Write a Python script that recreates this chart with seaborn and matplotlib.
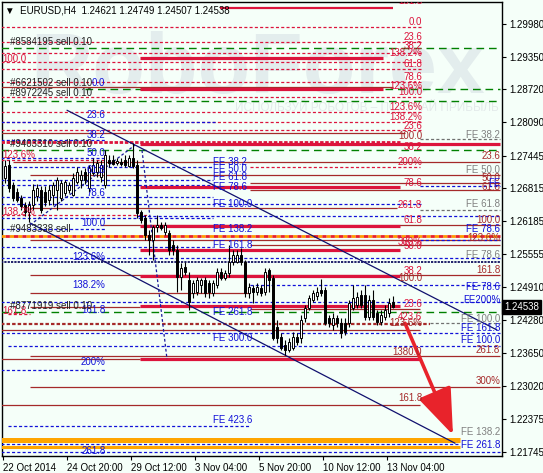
import matplotlib
matplotlib.use("Agg")
import matplotlib.pyplot as plt
import matplotlib.transforms as mtransforms
import seaborn as sns
import pandas as pd

# EURUSD H4 candles (bar 0 = 22 Oct 2014)
opens = [1.2702, 1.2727, 1.2688, 1.2675, 1.2663, 1.2650, 1.2636, 1.2650, 1.2667, 1.2678,
         1.2675, 1.2659, 1.2669, 1.2678, 1.2663, 1.2673, 1.2678, 1.2669, 1.2694, 1.2698,
         1.2713, 1.2682, 1.2711, 1.2713, 1.2703, 1.2688, 1.2736, 1.2736, 1.2730, 1.2732,
         1.2736, 1.2725, 1.2740, 1.2727, 1.2636, 1.2625, 1.2592, 1.2582, 1.2607, 1.2611,
         1.2598, 1.2596, 1.2573, 1.2563, 1.2511, 1.2530, 1.2505, 1.2480, 1.2482, 1.2496,
         1.2505, 1.2499, 1.2480, 1.2496, 1.2521, 1.2509, 1.2519, 1.2540, 1.2540, 1.2553,
         1.2540, 1.2480, 1.2490, 1.2482, 1.2490, 1.2482, 1.2524, 1.2509, 1.2415, 1.2395,
         1.2380, 1.2370, 1.2374, 1.2395, 1.2393, 1.2432, 1.2451, 1.2467, 1.2474, 1.2486,
         1.2486, 1.2432, 1.2419, 1.2432, 1.2422, 1.2422, 1.2422, 1.2451, 1.2457, 1.2476,
         1.2476, 1.2434, 1.2467, 1.2442, 1.2424, 1.2434, 1.2442, 1.24621]
highs = [1.2736, 1.2736, 1.2694, 1.2682, 1.2669, 1.2655, 1.2657, 1.2690, 1.2690, 1.2686,
         1.2686, 1.2688, 1.2694, 1.2703, 1.2698, 1.2698, 1.2694, 1.2711, 1.2723, 1.2717,
         1.2721, 1.2727, 1.2740, 1.2736, 1.2736, 1.2755, 1.2746, 1.2746, 1.2740, 1.2740,
         1.2746, 1.2746, 1.2769, 1.2736, 1.2640, 1.2630, 1.2601, 1.2611, 1.2630, 1.2617,
         1.2617, 1.2601, 1.2582, 1.2573, 1.2538, 1.2540, 1.2521, 1.2505, 1.2511, 1.2509,
         1.2511, 1.2505, 1.2505, 1.2528, 1.2528, 1.2524, 1.2573, 1.2563, 1.2563, 1.2567,
         1.2544, 1.2499, 1.2496, 1.2499, 1.2496, 1.2528, 1.2528, 1.2515, 1.2428, 1.2403,
         1.2390, 1.2393, 1.2405, 1.2403, 1.2438, 1.2457, 1.2476, 1.2486, 1.2492, 1.2507,
         1.2492, 1.2438, 1.2442, 1.2438, 1.2432, 1.2432, 1.2467, 1.2496, 1.2482, 1.2486,
         1.2496, 1.2476, 1.2486, 1.2447, 1.2447, 1.2457, 1.2471, 1.24749]
lows = [1.2692, 1.2675, 1.2657, 1.2655, 1.2640, 1.2628, 1.2617, 1.2640, 1.2657, 1.2634,
        1.2648, 1.2650, 1.2650, 1.2640, 1.2657, 1.2667, 1.2673, 1.2667, 1.2690, 1.2682,
        1.2690, 1.2675, 1.2707, 1.2703, 1.2694, 1.2682, 1.2723, 1.2727, 1.2727, 1.2725,
        1.2723, 1.2723, 1.2721, 1.2625, 1.2615, 1.2582, 1.2553, 1.2544, 1.2598, 1.2601,
        1.2592, 1.2553, 1.2553, 1.2482, 1.2486, 1.2515, 1.2447, 1.2471, 1.2476, 1.2480,
        1.2472, 1.2471, 1.2474, 1.2490, 1.2505, 1.2505, 1.2511, 1.2534, 1.2538, 1.2534,
        1.2472, 1.2471, 1.2461, 1.2476, 1.2474, 1.2476, 1.2482, 1.2390, 1.2384, 1.2370,
        1.2361, 1.2367, 1.2370, 1.2380, 1.2384, 1.2424, 1.2447, 1.2463, 1.2467, 1.2474,
        1.2419, 1.2415, 1.2409, 1.2415, 1.2393, 1.2399, 1.2415, 1.2447, 1.2451, 1.2451,
        1.2428, 1.2428, 1.2428, 1.2419, 1.2419, 1.2428, 1.2434, 1.24507]
closes = [1.2725, 1.2682, 1.2663, 1.2659, 1.2648, 1.2636, 1.2650, 1.2678, 1.2682, 1.2640,
          1.2655, 1.2678, 1.2688, 1.2698, 1.2692, 1.2694, 1.2688, 1.2702, 1.2713, 1.2707,
          1.2698, 1.2721, 1.2727, 1.2730, 1.2727, 1.2746, 1.2730, 1.2728, 1.2734, 1.2728,
          1.2727, 1.2740, 1.2725, 1.2634, 1.2621, 1.2592, 1.2582, 1.2607, 1.2611, 1.2605,
          1.2611, 1.2563, 1.2563, 1.2511, 1.2528, 1.2521, 1.2463, 1.2499, 1.2505, 1.2505,
          1.2480, 1.2482, 1.2499, 1.2521, 1.2509, 1.2519, 1.2540, 1.2553, 1.2553, 1.2540,
          1.2480, 1.2492, 1.2482, 1.2492, 1.2480, 1.2521, 1.2505, 1.2393, 1.2393, 1.2374,
          1.2370, 1.2386, 1.2395, 1.2386, 1.2428, 1.2451, 1.2471, 1.2480, 1.2482, 1.2480,
          1.2422, 1.2422, 1.2432, 1.2422, 1.2403, 1.2405, 1.2461, 1.2471, 1.2472, 1.2457,
          1.2434, 1.2467, 1.2434, 1.2424, 1.2438, 1.2447, 1.2461, 1.24538]

time_labels = ["22 Oct 2014", "24 Oct 20:00", "29 Oct 12:00", "3 Nov 04:00",
               "5 Nov 20:00", "10 Nov 12:00", "13 Nov 04:00"]
time_label_bars = [0, 16, 32, 48, 64, 80, 96]
price_ticks = [1.29980, 1.29350, 1.28720, 1.28090, 1.27445, 1.26815, 1.26185,
               1.25555, 1.24910, 1.24280, 1.23650, 1.23020, 1.22375, 1.21745]
last_price = 1.24538

# horizontal objects: (price, from bar, to bar)
red_dashed = [(1.2992, -1, 104.25), (1.2963, -1, 104.25), (1.2943, -1, 104.25),
              (1.2925, -1, 104.25), (1.2911, -1, 104.25), (1.2886, -1, 104.25),
              (1.2858, -1, 104.25), (1.2829, -1, 104.25), (1.2809, -1, 104.25),
              (1.2794, -1, 104.25), (1.2736, -1, 25), (1.2723, 61.25, 103.75),
              (1.2630, -1, 36), (1.2440, 0.75, 6.25)]
crimson_solid = [(1.2933, 33.75, 94.5), (1.2873, 33.75, 94.5), (1.2767, 33.75, 123.75),
                 (1.2684, 33.75, 98.75), (1.2609, 33.75, 98.75), (1.2563, 33.75, 98.75),
                 (1.2513, 33.75, 98.75), (1.2455, 33.75, 98.75), (1.2353, 33.75, 103.75)]
crimson_top = [(1.3029, 53.75, 97)]
crimson_dashed = [(1.2771, -1, 98.75)]
brown_solid = [(1.2877, -1, 97), (1.2788, -1, 100), (1.2732, 2, 123.75), (1.2707, 6.25, 123.75),
               (1.2692, 61.25, 123.75), (1.2678, 61.25, 123.75), (1.2644, 6.25, 98),
               (1.2611, 23.75, 123.75), (1.2582, 6.25, 123.75), (1.2573, 61.25, 123.75),
               (1.2515, 6.25, 123.75), (1.2480, 6.25, 61.25), (1.2453, 6.25, 33.75),
               (1.2449, 61.25, 103.75), (1.2409, -1, 103.75), (1.2359, 6.25, 123.75),
               (1.2353, -1, 33.75), (1.2299, 6.25, 123.75), (1.2265, -1, 103.75)]
blue_dashed = [(1.2809, -1, 52.5), (1.2775, -1, 25), (1.2740, -1, 25), (1.2723, 0.75, 52),
               (1.2698, -1, 52), (1.2688, -1, 52), (1.2665, -1, 52), (1.2652, -1, 104),
               (1.2628, 33, 123.75), (1.2625, -1, 52), (1.2603, -1, 25), (1.2569, -1, 52),
               (1.2582, 103.75, 123.75), (1.2686, 103.75, 123.75), (1.2548, -1, 123.75),
               (1.2496, 61.25, 123.75), (1.2463, -1, 123.75), (1.2403, -1, 123.75),
               (1.2378, 0.75, 123.75), (1.2332, -1, 25), (1.2224, 0.75, 61),
               (1.2190, -1, 113.75), (1.2174, -1, 123.75)]
navy_dotted = [(1.2540, -1, 123.75)]
green_dashed = [(1.2952, -1, 123.75), (1.2873, 20, 123.75), (1.2850, -1, 123.75),
                (1.2755, -1, 123.75), (1.2444, -1, 123.75)]
gray_dashed = [(1.2777, 103.75, 123.75), (1.2640, 103.75, 123.75), (1.2422, 106.25, 123.75)]
maroon_dashed = [(1.2420, -1, 106.25)]
orange_red = [(1.2590, -1, 123.75)]
orange_wide = [(1.2197, -1, 113.75)]
orange_narrow = [(1.2184, -1, 113.75)]

# trend channel and fibo time lines: ([bar, bar], [price, price])
channel_lines = [([15.5, 123.0], [1.2832, 1.2409]), ([6.25, 112.5], [1.2615, 1.2191])]
dotted_diagonals = [([34.25, 40.5], [1.2755, 1.2353]), ([6.25, 32.5], [1.2611, 1.2765])]
target_arrow = ([100, 112], [1.2422, 1.2207])

# labels: (text, price)
crimson_right = [("161.8", 1.3042), ("0.0", 1.3002), ("23.6", 1.2973), ("38.2", 1.2956),
                 ("138.2%", 1.2942), ("61.8", 1.2921), ("78.6", 1.2896), ("123.6%", 1.2879),
                 ("100.0", 1.2867), ("123.6%", 1.2838), ("138.2%", 1.2819), ("23.6", 1.2802),
                 ("38.2", 1.2761), ("200%", 1.2732), ("78.6", 1.2692), ("261.8", 1.2650),
                 ("61.8", 1.2621), ("300%", 1.2578), ("50.0", 1.2571), ("38.2", 1.2522),
                 ("23.6", 1.2459), ("423.6", 1.2434)]
brown_mid = [("100.0", 1.2782), ("100.0", 1.2509), ("123.6%", 1.2422), ("1380.0", 1.2367),
             ("161.8", 1.2278)]
brown_right = [("23.6", 1.2744), ("50.0", 1.2702), ("61.8", 1.2684), ("100.0", 1.2621),
               ("123.6%", 1.2586), ("161.8", 1.2524), ("261.8", 1.2370), ("300%", 1.2311)]
gray_right = [("FE 38.2", 1.2784), ("FE 50.0", 1.2717), ("FE 61.8", 1.2652),
              ("FE 78.6", 1.2553), ("FE 100.0", 1.2430), ("FE 138.2", 1.2213)]
blue_right = [("FE", 1.2692), ("FE 78.6", 1.2603), ("FE 78.6", 1.2492), ("FE200%", 1.2467),
              ("FE 161.8", 1.2413), ("FE 100.0", 1.2390), ("FE 261.8", 1.2188)]
blue_mid = [("FE 38.2", 1.2732), ("FE 50.0", 1.2719), ("FE 61.8", 1.2703), ("FE 78.6", 1.2684),
            ("FE 100.0", 1.2651), ("FE 138.2", 1.2603), ("FE 161.8", 1.2573),
            ("FE 261.8", 1.2444), ("FE 300.0", 1.2394), ("FE 423.6", 1.2236)]
blue_left = [("0.0", 1.2884), ("23.6", 1.2823), ("38.2", 1.2784), ("50.0", 1.2750),
             ("61.8", 1.2717), ("78.6", 1.2673), ("100.0", 1.2615), ("123.6%", 1.2549),
             ("138.2%", 1.2496), ("161.8", 1.2447), ("200%", 1.2348), ("261.8", 1.2176)]
crimson_left = [("100.0", 1.2931), ("123.6%", 1.2746), ("138.2%", 1.2636), ("161.8", 1.2446)]
order_labels = [("#8584195 sell 0.10", 1.2963), ("#6621502 sell 0.10", 1.2884),
                ("#8972245 sell 0.10", 1.2865), ("#9403310 sell 0.10", 1.2767),
                ("#9483338 sell", 1.2603), ("#8771919 sell 0.10", 1.2455)]

CRIMSON, BROWN, BLUE, GRAY = "#dc143c", "#a52a2a", "#1010d8", "#808080"
BG = "#f5fff9"

sns.set_theme(style="white")
plt.rcParams["font.family"] = ["Liberation Sans", "DejaVu Sans"]
plt.rcParams["lines.scale_dashes"] = False

fig = plt.figure(figsize=(5.43, 4.73), dpi=100, facecolor=BG)
ax = fig.add_axes([2 / 543, 17 / 473, 500 / 543, 454 / 473], facecolor=BG)
ax.set_xlim(-0.75, 124.25)
ax.set_ylim(1.21664, 1.30404)

# watermark
ax.text(0.056, 0.80, "RoboForex", transform=ax.transAxes, fontsize=62, fontweight="bold",
        color="#e3eded", va="baseline", ha="left", zorder=0)
ax.text(0.466, 0.767, "ИСПОЛЬЗУЙ РОБОТОВ – ПОЛУЧАЙ ПРИБЫЛЬ", transform=ax.transAxes,
        fontsize=8.5, color="#e3eaea", va="center", ha="left", zorder=0)

styles = {
    "red_dashed": dict(color=CRIMSON, lw=0.9, ls=(0, (2.2, 1.6))),
    "crimson_solid": dict(color=CRIMSON, lw=2.3, ls="-"),
    "crimson_top": dict(color=CRIMSON, lw=1.6, ls="-"),
    "crimson_dashed": dict(color=CRIMSON, lw=2.0, ls=(0, (2.5, 1.2))),
    "brown_solid": dict(color=BROWN, lw=0.9, ls="-"),
    "blue_dashed": dict(color=BLUE, lw=0.9, ls=(0, (2.2, 1.6))),
    "navy_dotted": dict(color="#101060", lw=1.3, ls=(0, (1.6, 0.8))),
    "green_dashed": dict(color="#008000", lw=1.0, ls=(0, (5.5, 3.5))),
    "gray_dashed": dict(color="#707070", lw=0.9, ls=(0, (2.2, 1.6))),
    "maroon_dashed": dict(color=BROWN, lw=1.6, ls=(0, (2.5, 1.5))),
    "orange_wide": dict(color="#ffa500", lw=3.6, ls="-"),
    "orange_narrow": dict(color="#ffa500", lw=2.2, ls="-"),
}
groups = [("orange_wide", orange_wide), ("orange_narrow", orange_narrow),
          ("brown_solid", brown_solid),
          ("red_dashed", red_dashed), ("blue_dashed", blue_dashed),
          ("green_dashed", green_dashed), ("gray_dashed", gray_dashed),
          ("navy_dotted", navy_dotted), ("maroon_dashed", maroon_dashed),
          ("crimson_dashed", crimson_dashed), ("crimson_solid", crimson_solid),
          ("crimson_top", crimson_top)]
for name, levels in groups:
    for price, t0, t1 in levels:
        ax.plot([t0, t1], [price, price], zorder=3, solid_capstyle="butt", **styles[name])

for price, t0, t1 in orange_red:
    ax.plot([t0, t1], [price, price], color="#ff9a00", lw=2.0, ls=(0, (3, 3)), zorder=3)
    ax.plot([t0, t1], [price, price], color="#e8202a", lw=2.0, ls=(3, (3, 3)), zorder=3)

# channel and time lines
for xs, ys in channel_lines:
    sns.lineplot(x=xs, y=ys, ax=ax, color="#10106e", lw=0.9, zorder=4)
for xs, ys in dotted_diagonals:
    ax.plot(xs, ys, color="#1a1a9a", lw=0.9, ls=(0, (2, 1.6)), zorder=4)

# candles
df = pd.DataFrame({"open": opens, "high": highs, "low": lows, "close": closes})
df["bar"] = range(len(df))
ax.vlines(df["bar"], df["low"], df["high"], color="black", lw=0.8, zorder=5)
up = df[df["close"] >= df["open"]]
dn = df[df["close"] < df["open"]]
ax.bar(up["bar"], (up["close"] - up["open"]).clip(lower=0.00012), bottom=up["open"],
       width=0.72, color="white", edgecolor="black", lw=0.7, zorder=6)
ax.bar(dn["bar"], dn["close"] - dn["open"], bottom=dn["open"],
       width=0.72, color="black", edgecolor="black", lw=0.7, zorder=6)

# arrow to target
ax.annotate("", xy=(target_arrow[0][1], target_arrow[1][1]),
            xytext=(target_arrow[0][0], target_arrow[1][0]),
            arrowprops=dict(arrowstyle="-|>,head_length=2.4,head_width=0.9",
                            color="#e8232b", lw=2.6, shrinkA=0, shrinkB=0), zorder=7)

# level labels
fs = 7
def put(labels, x, color, ha):
    for text, price in labels:
        ax.text(x, price, text, color=color, ha=ha, va="center", fontsize=fs,
                zorder=8, clip_on=True)

put(crimson_right, 104.3, CRIMSON, "right")
put(brown_mid, 104.3, BROWN, "right")
put(brown_right, 123.8, BROWN, "right")
put(gray_right, 123.8, GRAY, "right")
put(blue_right, 123.8, BLUE, "right")
put(blue_mid, 51.9, BLUE, "left")
put(blue_left, 25.1, BLUE, "right")
put(crimson_left, -0.6, CRIMSON, "left")
put(order_labels, 1.2, "#222222", "left")

ax.text(0.006, 0.982, "\u25bc  EURUSD,H4  1.24621 1.24749 1.24507 1.24538",
        transform=ax.transAxes, fontsize=fs, color="black", va="center", ha="left", zorder=9)

# axes
for sp in ax.spines.values():
    sp.set_color("black")
    sp.set_linewidth(1.0)
ax.yaxis.tick_right()
ax.set_yticks(price_ticks)
ax.set_yticklabels([f"{p:.5f}" for p in price_ticks])
ax.set_xticks([b - 0.5 for b in time_label_bars])
ax.set_xticklabels(time_labels)
for lbl in ax.get_xticklabels():
    lbl.set_ha("left")
ax.tick_params(axis="y", right=True, left=False, length=3, width=0.8, pad=2,
               labelsize=fs, colors="black")
ax.tick_params(axis="x", bottom=True, length=3, width=0.8, pad=2,
               labelsize=fs, colors="black")
ax.set_xlabel("")
ax.set_ylabel("")

trans = mtransforms.blended_transform_factory(ax.transAxes, ax.transData)
ax.text(1.004, last_price, f"{last_price:.5f}", transform=trans, fontsize=fs, color="white",
        va="center", ha="left", clip_on=False, zorder=10,
        bbox=dict(boxstyle="square,pad=0.2", fc="black", ec="black"))

fig.savefig("out.png", dpi=100, facecolor=BG)
